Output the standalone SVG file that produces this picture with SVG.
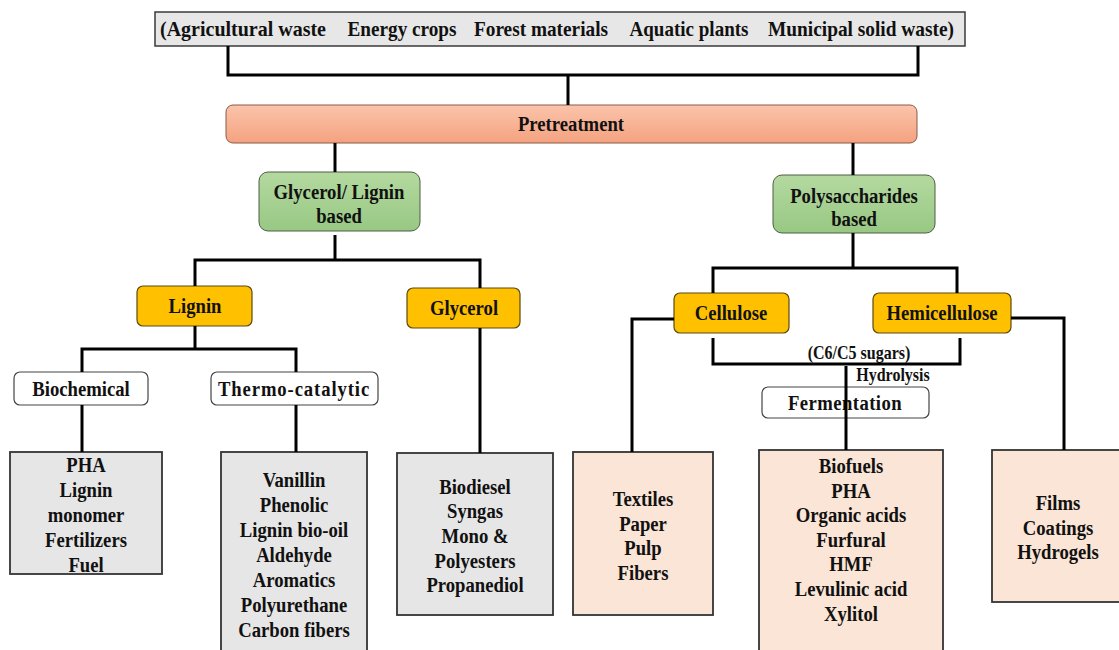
<svg xmlns="http://www.w3.org/2000/svg" width="1119" height="650" viewBox="0 0 1119 650">
<defs>
<linearGradient id="gSalmon" x1="0" y1="0" x2="0" y2="1"><stop offset="0" stop-color="#fbc4ab"/><stop offset="1" stop-color="#f4a27f"/></linearGradient>
<linearGradient id="gGreen" x1="0" y1="0" x2="0" y2="1"><stop offset="0" stop-color="#b4d9a0"/><stop offset="1" stop-color="#98c883"/></linearGradient>
<style>
text{font-family:"Liberation Serif","Times New Roman",serif;font-weight:bold;fill:#111;text-anchor:middle;font-size:21px;transform-box:fill-box;transform-origin:center;transform:scaleX(0.89)}
text.top{transform:none}
.src{fill:#e8e7e7;stroke:#3a3a3a;stroke-width:1.5}
.pre{fill:url(#gSalmon);stroke:#8a5a48;stroke-width:1}
.grn{fill:url(#gGreen);stroke:#4d5e44;stroke-width:1}
.org{fill:#ffc000;stroke:#5b4a10;stroke-width:1.2}
.wht{fill:#fff;stroke:#444;stroke-width:1.2}
.gry{fill:#e7e6e6;stroke:#333;stroke-width:1.8}
.pch{fill:#fbe5d6;stroke:#333;stroke-width:1.8}
.conn path{fill:none;stroke:#000;stroke-width:3}
text.sm{font-size:18px}
</style>
</defs>

<g id="sources">
<rect class="src" x="155" y="12" width="810" height="34"/>
<text class="top" x="243" y="36" textLength="166" lengthAdjust="spacingAndGlyphs">(Agricultural waste</text>
<text class="top" x="402" y="36" textLength="109" lengthAdjust="spacingAndGlyphs">Energy crops</text>
<text class="top" x="541" y="36" textLength="134" lengthAdjust="spacingAndGlyphs">Forest materials</text>
<text class="top" x="689" y="36" textLength="119" lengthAdjust="spacingAndGlyphs">Aquatic plants</text>
<text class="top" x="861" y="36" textLength="186" lengthAdjust="spacingAndGlyphs">Municipal solid waste)</text>
</g>

<g id="pretreatment">
<rect class="pre" x="226" y="105" width="691" height="38" rx="7"/>
<text x="571" y="131">Pretreatment</text>
</g>

<g id="glycerol-lignin-based">
<rect class="grn" x="259" y="172" width="161" height="59" rx="9"/>
<text x="339" y="199">Glycerol/ Lignin</text>
<text x="339" y="223">based</text>
</g>

<g id="polysaccharides-based">
<rect class="grn" x="773" y="175" width="162" height="58" rx="9"/>
<text x="854" y="203">Polysaccharides</text>
<text x="854" y="226">based</text>
</g>

<g id="lignin">
<rect class="org" x="137" y="286" width="115" height="40" rx="6"/>
<text x="195" y="313">Lignin</text>
</g>

<g id="glycerol">
<rect class="org" x="407" y="288" width="113" height="40" rx="6"/>
<text x="464" y="315">Glycerol</text>
</g>

<g id="cellulose">
<rect class="org" x="674" y="293" width="115" height="40" rx="6"/>
<text x="731" y="320">Cellulose</text>
</g>

<g id="hemicellulose">
<rect class="org" x="873" y="293" width="138" height="40" rx="6"/>
<text x="942" y="320">Hemicellulose</text>
</g>

<g id="biochemical">
<rect class="wht" x="14" y="372" width="134" height="33" rx="6"/>
<text x="81" y="396">Biochemical</text>
</g>

<g id="thermo-catalytic">
<rect class="wht" x="211" y="372" width="167" height="33" rx="6"/>
<text x="294" y="396" letter-spacing="1">Thermo-catalytic</text>
</g>

<g id="fermentation">
<rect class="wht" x="762" y="387" width="167" height="31" rx="6"/>
<text x="845" y="410" letter-spacing="0.5">Fermentation</text>
</g>

<g id="hydrolysis-labels">
<text class="sm" x="859" y="359">(C6/C5 sugars)</text>
<text class="sm" x="893" y="381">Hydrolysis</text>
</g>

<g id="biochemical-products">
<rect class="gry" x="10" y="452" width="152" height="122"/>
<text x="86" y="472">PHA</text>
<text x="86" y="497">Lignin</text>
<text x="86" y="522">monomer</text>
<text x="86" y="547">Fertilizers</text>
<text x="86" y="572">Fuel</text>
</g>

<g id="thermo-products">
<rect class="gry" x="221" y="452" width="146" height="205"/>
<text x="294" y="487">Vanillin</text>
<text x="294" y="512">Phenolic</text>
<text x="294" y="537">Lignin bio-oil</text>
<text x="294" y="562">Aldehyde</text>
<text x="294" y="587">Aromatics</text>
<text x="294" y="612">Polyurethane</text>
<text x="294" y="637">Carbon fibers</text>
</g>

<g id="glycerol-products">
<rect class="gry" x="397" y="453" width="156" height="162"/>
<text x="475" y="494">Biodiesel</text>
<text x="475" y="518">Syngas</text>
<text x="475" y="543">Mono &amp;</text>
<text x="475" y="568">Polyesters</text>
<text x="475" y="592">Propanediol</text>
</g>

<g id="cellulose-products">
<rect class="pch" x="573" y="452" width="140" height="163"/>
<text x="643" y="506">Textiles</text>
<text x="643" y="531">Paper</text>
<text x="643" y="555">Pulp</text>
<text x="643" y="580">Fibers</text>
</g>

<g id="fermentation-products">
<rect class="pch" x="759" y="450" width="184" height="207"/>
<text x="851" y="473">Biofuels</text>
<text x="851" y="498">PHA</text>
<text x="851" y="522">Organic acids</text>
<text x="851" y="547">Furfural</text>
<text x="851" y="571">HMF</text>
<text x="851" y="596">Levulinic acid</text>
<text x="851" y="621">Xylitol</text>
</g>

<g id="hemicellulose-products">
<rect class="pch" x="992" y="450" width="135" height="152"/>
<text x="1058" y="510">Films</text>
<text x="1058" y="535">Coatings</text>
<text x="1058" y="559">Hydrogels</text>
</g>

<g class="conn" id="connectors">
<path d="M228 46 V75 H918 V46"/>
<path d="M568 75 V105"/>
<path d="M335 143 V172"/>
<path d="M853 143 V175"/>
<path d="M335 235 V260"/>
<path d="M195 286 V260 H480 V288"/>
<path d="M195 326 V349"/>
<path d="M82 372 V349 H296 V372"/>
<path d="M82 405 V452"/>
<path d="M296 405 V452"/>
<path d="M480 328 V453"/>
<path d="M853 233 V268"/>
<path d="M713 293 V268 H957 V293"/>
<path d="M674 319 H632 V452"/>
<path d="M1011 318 H1064 V450"/>
<path d="M713 338 V364 H960 V338"/>
<path d="M846 366 V450"/>
</g>
</svg>
